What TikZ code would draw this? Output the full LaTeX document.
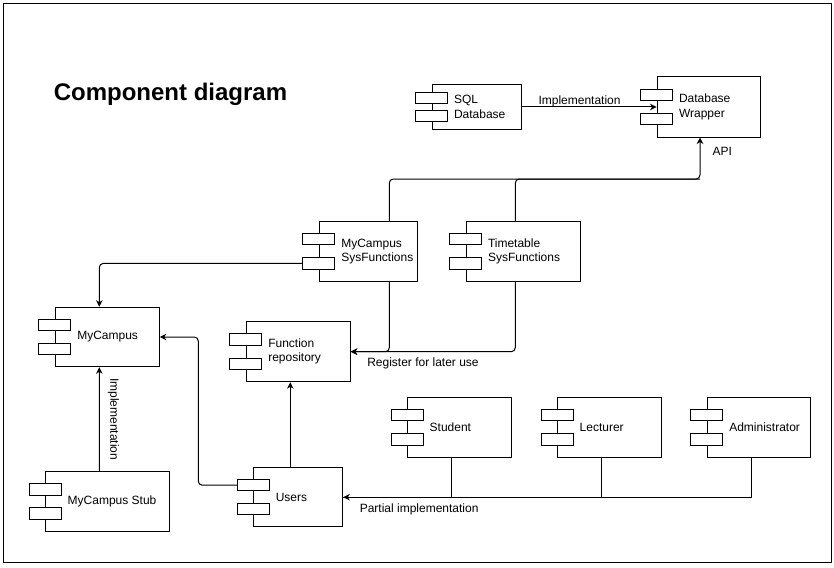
\documentclass[tikz,border=0pt]{standalone}
\usepackage{fontspec}
\setmainfont{Liberation Sans}
\usetikzlibrary{arrows.meta,calc}

\begin{document}
\begin{tikzpicture}[x=1pt, y=-1pt, line width=1pt,
	comp/.style={draw, rectangle, fill=white, inner sep=0},
	tab/.style={draw, rectangle, fill=white, inner sep=0, minimum width=32pt, minimum height=11.5pt},
	lbl/.style={anchor=west, inner sep=0, align=left, font=\fontsize{12}{14.3}\selectfont},
	note/.style={inner sep=0, font=\fontsize{12}{14.3}\selectfont},
	wire/.style={rounded corners=4pt},
	arr/.style={wire, -{Stealth[length=6.5pt,width=6.5pt,inset=2pt]}}]
	\useasboundingbox (0,0) rectangle (834,567);
	\draw (3.3,3.3) rectangle (831.7,562.7);
	\node (title) [anchor=base west, inner sep=0, font=\bfseries\fontsize{24}{28}\selectfont] at (53.3,101) {Component diagram};
	% components: name/x/y/width/height/text
	\foreach \n/\x/\y/\w/\h/\lab in {
		sql/476.5/107/89/44/{SQL\\Database},
		wrap/708.5/107/103/60/{Database\\Wrapper},
		mcs/368.3/251.3/98/59.5/{MyCampus\\SysFunctions},
		tt/523/251.3/114/59.5/{Timetable\\SysFunctions},
		mc/107.3/337/104/59.5/MyCampus,
		fr/298.3/351.7/104/60/{Function\\repository},
		stu/459.7/427.3/104/60/Student,
		lec/609.7/427.3/104/60/Lecturer,
		adm/759/427.3/103.5/60/Administrator,
		stub/107.5/501.4/123.6/59.3/{MyCampus Stub},
		us/298.3/497.2/89/59/Users}
	{
		\node[comp, minimum width=\w pt, minimum height=\h pt] (\n) at (\x,\y) {};
		\node[tab] (\n-t1) at ($(\n.north west)!0.3!(\n.south west)$) {};
		\node[tab] (\n-t2) at ($(\n.north west)!0.7!(\n.south west)$) {};
		\node[lbl] (\n-txt) at ([xshift=22pt]\n.west) {\lab};
	}
	% connectors
	\coordinate (api) at (700,179);
	\coordinate (ujog) at (198.3,337);
	\draw[arr] (sql) -- (wrap) node[note, anchor=base, pos=0.43, yshift=3pt] (impl1) {Implementation};
	\draw[arr] ([xshift=21pt]mcs.north) |- (api) -- (api |- wrap.south);
	\draw[wire] ([xshift=-7.7pt]tt.north) |- (api);
	\node[note, anchor=west] (apilbl) at ([xshift=3.5pt,yshift=-13.5pt]wrap.south) {API};
	\draw[arr] (mcs-t2.west) -| ([xshift=-8pt]mc.north);
	\draw[arr] ([xshift=-8pt]stub.north) -- ([xshift=-8pt]mc.south)
		node[note, midway, rotate=-90, anchor=south, inner ysep=8pt] (impl2) {Implementation};
	\draw[arr] (us-t1.west) -| (ujog) -- (mc.east);
	\draw[arr] ([xshift=-8pt]us.north) -- ([xshift=-8pt]fr.south);
	\draw[arr] ([xshift=21pt]mcs.south) |- (fr.east);
	\draw[arr] ([xshift=-7.7pt]tt.south) |- (fr.east);
	\node[note, anchor=west] (reglbl) at ([xshift=16pt,yshift=-12pt]fr.east) {Register for later use};
	\foreach \r in {stu,lec}
		\draw ([xshift=-8pt]\r.south) |- (us.east);
	\draw[arr, sharp corners] ([xshift=-7.3pt]adm.south) |- (us.east);
	\node[note, anchor=west] (partlbl) at ([xshift=16pt,yshift=-12pt]us.east) {Partial implementation};
\end{tikzpicture}
\end{document}
